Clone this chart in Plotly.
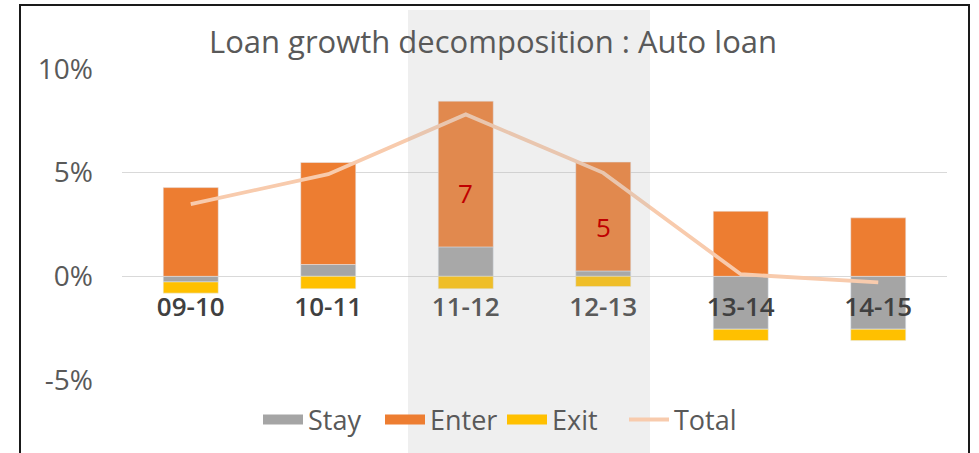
import plotly.graph_objects as go

categories = ["09-10", "10-11", "11-12", "12-13", "13-14", "14-15"]
stay = [-0.27, 0.57, 1.42, 0.26, -2.55, -2.55]
enter = [4.28, 4.92, 7.03, 5.25, 3.14, 2.82]
exit_ = [-0.54, -0.60, -0.60, -0.49, -0.55, -0.55]
total = [3.48, 4.93, 7.81, 4.99, 0.10, -0.29]
label_cats = ["11-12", "12-13"]
label_text = ["7", "5"]
label_y = [4.0, 2.4]
y_ticks = [-5, 0, 5, 10]
y_range = [-5, 10]

FONT = "Open Sans"
bar_series = [("Stay", stay, "#A5A5A5"), ("Enter", enter, "#ED7D31"), ("Exit", exit_, "#FFC000")]

fig = go.Figure()
for name, vals, col in bar_series:
    fig.add_trace(go.Bar(name=name, x=categories, y=vals, marker_color=col, width=0.4,
                         legendgroup=name, showlegend=False))
fig.add_trace(go.Scatter(name="Total", x=categories, y=total, mode="lines",
                         line=dict(color="#F8CBAD", width=3.8), showlegend=False,
                         legendgroup="Total"))
# legend entries (wide rectangular swatches like the original)
for name, vals, col in bar_series:
    fig.add_trace(go.Scatter(name=name, x=[None], y=[None], mode="lines",
                             line=dict(color=col, width=13), legendgroup=name))
fig.add_trace(go.Scatter(name="Total", x=[None], y=[None], mode="lines",
                         line=dict(color="#F8CBAD", width=4), legendgroup="Total"))

for c, t, yv in zip(label_cats, label_text, label_y):
    fig.add_annotation(x=c, y=yv, text=t, showarrow=False,
                       font=dict(family=FONT, size=26, color="#C00000"))

W, H = 979, 453
T, B = 69, 73
ph = H - T - B
L, R = 122, 32
pw = W - L - R

# highlight overlay
fig.add_shape(type="rect", xref="x", yref="paper", x0=1.58, x1=3.34,
              y0=-0.3, y1=1 + (T - 10) / ph, layer="above",
              fillcolor="rgba(183,183,183,0.22)", line_width=0)
# outer frame
fig.add_shape(type="rect", xref="paper", yref="paper",
              x0=(20 - L) / pw, x1=(969 - L) / pw,
              y0=-0.3, y1=1 + (T - 5) / ph, layer="above",
              fillcolor="rgba(0,0,0,0)", line=dict(color="#1a1a1a", width=2))

fig.update_layout(
    width=W, height=H,
    margin=dict(l=L, r=R, t=T, b=B, autoexpand=False),
    paper_bgcolor="white", plot_bgcolor="white",
    barmode="relative",
    title=dict(text="Loan growth decomposition : Auto loan", x=493 / W, xanchor="center",
               y=1 - 42 / H, yanchor="middle",
               font=dict(family=FONT, size=31, color="#595959")),
    legend=dict(orientation="h", x=(258 - L) / pw, xanchor="left", y=(380 - 420) / ph,
                yanchor="middle", font=dict(family=FONT, size=27, color="#595959"),
                traceorder="normal", itemwidth=40, entrywidth=67,
                bgcolor="rgba(0,0,0,0)"),
    showlegend=True,
)
fig.update_yaxes(range=y_range, tickvals=y_ticks, ticktext=[f"{v}%" for v in y_ticks],
                 showgrid=True, gridcolor="#D9D9D9", gridwidth=1.3,
                 zeroline=True, zerolinecolor="#D9D9D9", zerolinewidth=1.3,
                 showline=False, ticklabelstandoff=28,
                 tickfont=dict(family=FONT, size=28, color="#595959"))
fig.update_xaxes(type="category", anchor="free",
                 position=(0 - y_range[0]) / (y_range[1] - y_range[0]),
                 showline=False, showgrid=False, ticks="", ticklabelstandoff=13,
                 tickfont=dict(family=FONT, size=26, color="#404040", weight=600))

fig.write_html("out.html", config={"displayModeBar": False},
               post_script="document.body.style.margin='0';")
